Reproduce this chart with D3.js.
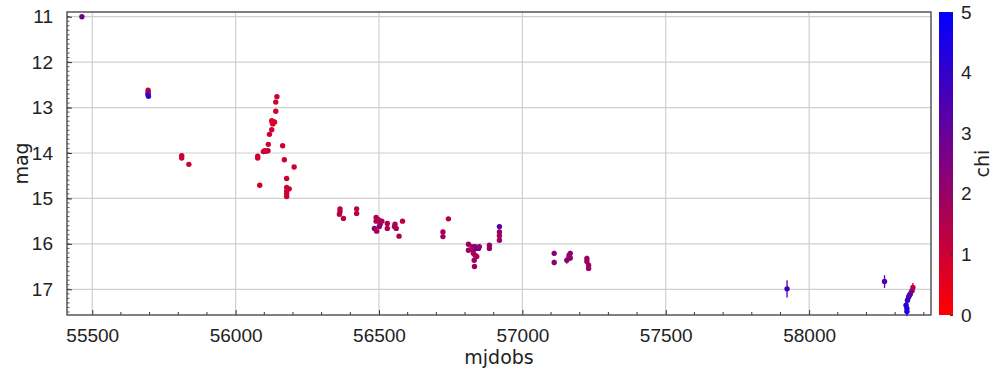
<!DOCTYPE html>
<html>
<head>
<meta charset="utf-8">
<script src="https://cdn.jsdelivr.net/npm/d3@7"></script>
<style>
  html, body { margin: 0; padding: 0; background: #fff; }
  svg { display: block; font-family: "DejaVu Sans", sans-serif; }
</style>
</head>
<body>
<svg id="chart" width="995" height="375"></svg>
<script>
// Light-curve observations: epoch (MJD), magnitude, magnitude error, chi
const mjd = [
  55464,
  55695, 55695, 55694, 55696,
  55812, 55812, 55837,
  56144, 56140, 56140, 56126, 56132, 56128, 56136, 56130, 56126, 56118, 56114,
  56101, 56097, 56113, 56106, 56077, 56077, 56164, 56170, 56204, 56084,
  56178, 56178, 56187, 56178, 56178, 56178,
  56364, 56364, 56362, 56376, 56422, 56422,
  56490, 56490, 56484, 56498, 56504, 56510, 56501, 56492,
  56529, 56529, 56556, 56554, 56560, 56570, 56582,
  56742, 56723, 56723,
  56812, 56812, 56824, 56829, 56835, 56841, 56847, 56850, 56829, 56835, 56832, 56833, 56841,
  56885, 56885, 56920, 56920, 56920, 56920,
  57111, 57111, 57155, 57163, 57167, 57167, 57225, 57225, 57231, 57231,
  57923, 58263,
  58338, 58341, 58343, 58347, 58350, 58353, 58359, 58362, 58341
];
const mag = [
  11.00,
  12.62, 12.67, 12.71, 12.75,
  14.06, 14.11, 14.25,
  12.76, 12.88, 13.08, 13.29, 13.31, 13.34, 13.32, 13.36, 13.49, 13.59, 13.81,
  13.95, 13.97, 13.95, 13.96, 14.07, 14.11, 13.84, 14.15, 14.31, 14.71,
  14.56, 14.76, 14.79, 14.84, 14.90, 14.96,
  15.23, 15.29, 15.35, 15.44, 15.23, 15.33,
  15.42, 15.50, 15.66, 15.47, 15.57, 15.50, 15.62, 15.72,
  15.55, 15.66, 15.57, 15.62, 15.66, 15.83, 15.50,
  15.45, 15.74, 15.84,
  16.01, 16.14, 16.06, 16.14, 16.06, 16.10, 16.10, 16.06, 16.21, 16.25, 16.36, 16.50, 16.28,
  16.03, 16.10, 15.62, 15.74, 15.82, 15.92,
  16.21, 16.41, 16.36, 16.25, 16.21, 16.31, 16.32, 16.39, 16.47, 16.54,
  16.99, 16.83,
  17.35, 17.42, 17.24, 17.17, 17.13, 17.10, 17.03, 16.96, 17.49
];
const magErr = [
  0.02,
  0.03, 0.03, 0.03, 0.03,
  0.02, 0.02, 0.02,
  0.02, 0.02, 0.02, 0.02, 0.02, 0.02, 0.02, 0.02, 0.02, 0.02, 0.02,
  0.02, 0.02, 0.02, 0.02, 0.02, 0.02, 0.02, 0.02, 0.02, 0.02,
  0.02, 0.02, 0.02, 0.02, 0.02, 0.02,
  0.04, 0.04, 0.04, 0.04, 0.04, 0.04,
  0.04, 0.04, 0.04, 0.04, 0.04, 0.04, 0.04, 0.04,
  0.04, 0.04, 0.04, 0.04, 0.04, 0.04, 0.03,
  0.03, 0.05, 0.05,
  0.05, 0.05, 0.05, 0.05, 0.05, 0.05, 0.05, 0.05, 0.05, 0.05, 0.05, 0.05, 0.05,
  0.05, 0.05, 0.05, 0.05, 0.05, 0.05,
  0.06, 0.06, 0.08, 0.06, 0.06, 0.06, 0.06, 0.06, 0.06, 0.06,
  0.19, 0.14,
  0.10, 0.12, 0.10, 0.10, 0.10, 0.10, 0.10, 0.10, 0.10
];
const chi = [
  2.8,
  1.3, 2.0, 3.0, 4.0,
  1.0, 1.0, 1.0,
  0.9, 0.9, 0.9, 0.6, 0.6, 0.7, 0.7, 0.8, 0.9, 1.1, 1.0,
  1.0, 1.0, 1.1, 1.0, 0.9, 0.9, 1.0, 1.0, 1.0, 0.9,
  1.0, 1.0, 1.0, 1.0, 1.0, 1.0,
  1.3, 1.4, 1.4, 1.3, 1.3, 1.4,
  1.4, 1.6, 2.4, 1.5, 1.9, 1.6, 2.1, 1.7,
  1.5, 1.5, 1.5, 1.7, 1.7, 1.5, 1.3,
  1.4, 1.7, 1.7,
  1.9, 1.9, 1.7, 2.1, 2.3, 2.5, 3.0, 1.9, 1.7, 1.7, 1.9, 2.0, 1.7,
  2.0, 2.0, 3.4, 2.0, 1.7, 1.9,
  2.3, 2.3, 2.2, 2.3, 2.2, 2.1, 1.9, 1.9, 1.9, 1.9,
  3.8, 3.4,
  4.2, 4.4, 4.0, 3.7, 3.5, 3.2, 2.6, 1.2, 4.5
];

const xTicks = [55500, 56000, 56500, 57000, 57500, 58000];
const yTicks = [11, 12, 13, 14, 15, 16, 17];
const chiTicks = [0, 1, 2, 3, 4, 5];

const W = 995, H = 375;
const plot = { left: 67, top: 12, right: 931, bottom: 315 };
const bar = { left: 939, right: 953 };

const svg = d3.select("#chart");

const x = d3.scaleLinear().domain([55412, 58425]).range([plot.left, plot.right]);
const y = d3.scaleLinear().domain([10.897, 17.566]).range([plot.top, plot.bottom]);
const color = d3.scaleLinear().domain([0, 5]).range(["#ff0000", "#0000ff"]).interpolate(d3.interpolateRgb);
const cy = d3.scaleLinear().domain([0, 5]).range([plot.bottom, plot.top]);

// grid
const grid = svg.append("g").attr("stroke", "#cfcfcf").attr("stroke-width", 1.2);
grid.selectAll("line.gx").data(xTicks).join("line")
  .attr("x1", d => x(d)).attr("x2", d => x(d))
  .attr("y1", plot.top).attr("y2", plot.bottom);
grid.selectAll("line.gy").data(yTicks).join("line")
  .attr("x1", plot.left).attr("x2", plot.right)
  .attr("y1", d => y(d)).attr("y2", d => y(d));

// minor ticks (inside the frame)
const minorX = d3.range(55500, 58500, 100).filter(v => v % 500 !== 0 && v < 58425);
svg.append("g").attr("stroke", "#333").attr("stroke-width", 1)
  .selectAll("line").data(minorX).join("line")
  .attr("x1", d => x(d)).attr("x2", d => x(d))
  .attr("y1", plot.bottom).attr("y2", plot.bottom - 3);
const minorY = d3.range(109, 176).map(v => v / 10).filter(v => v > 10.9 && v < 17.56);
svg.append("g").attr("stroke", "#333").attr("stroke-width", 0.8)
  .selectAll("line").data(minorY).join("line")
  .attr("x1", plot.left).attr("x2", plot.left + 2.5)
  .attr("y1", d => y(d)).attr("y2", d => y(d));

// axes
const xAxis = d3.axisBottom(x).tickValues(xTicks).tickFormat(d3.format("d"))
  .tickSizeInner(-5).tickSizeOuter(0).tickPadding(14);
const gx = svg.append("g").attr("transform", `translate(0,${plot.bottom})`).call(xAxis);
const yAxis = d3.axisLeft(y).tickValues(yTicks).tickFormat(d3.format("d"))
  .tickSizeInner(-5).tickSizeOuter(0).tickPadding(14);
const gy = svg.append("g").attr("transform", `translate(${plot.left},0)`).call(yAxis);
[gx, gy].forEach(g => {
  g.select(".domain").remove();
  g.selectAll(".tick line").attr("stroke", "#333");
  g.selectAll(".tick text").attr("fill", "#222").style("font-size", "19px");
});
gx.selectAll(".tick text").attr("dy", "0.71em");

// frame
svg.append("rect")
  .attr("x", plot.left).attr("y", plot.top)
  .attr("width", plot.right - plot.left).attr("height", plot.bottom - plot.top)
  .attr("fill", "none").attr("stroke", "#4a4a4a").attr("stroke-width", 1.4);

// observations
const data = mjd.map((m, i) => ({ t: m, m: mag[i], e: magErr[i], c: chi[i] }));
const pts = svg.append("g");
pts.selectAll("line").data(data).join("line")
  .attr("x1", d => x(d.t)).attr("x2", d => x(d.t))
  .attr("y1", d => y(d.m - d.e)).attr("y2", d => y(d.m + d.e))
  .attr("stroke", d => color(d.c)).attr("stroke-width", 1.3);
pts.selectAll("circle").data(data).join("circle")
  .attr("cx", d => x(d.t)).attr("cy", d => y(d.m)).attr("r", 2.7)
  .attr("fill", d => color(d.c));

// axis titles
svg.append("text").attr("x", (plot.left + plot.right) / 2).attr("y", 364)
  .attr("text-anchor", "middle").attr("fill", "#222").style("font-size", "19px").text("mjdobs");
svg.append("text").attr("transform", `translate(28,${(plot.top + plot.bottom) / 2}) rotate(-90)`)
  .attr("text-anchor", "middle").attr("fill", "#222").style("font-size", "19px").text("mag");

// colour bar
const defs = svg.append("defs");
const grad = defs.append("linearGradient").attr("id", "chiGrad")
  .attr("x1", 0).attr("y1", 1).attr("x2", 0).attr("y2", 0);
d3.range(0, 5.01, 0.5).forEach(v => {
  grad.append("stop").attr("offset", v / 5).attr("stop-color", color(v));
});
svg.append("rect").attr("x", bar.left).attr("y", plot.top)
  .attr("width", bar.right - bar.left).attr("height", plot.bottom - plot.top)
  .attr("fill", "url(#chiGrad)");
const cAxis = d3.axisRight(cy).tickValues(chiTicks).tickFormat(d3.format("d"))
  .tickSizeInner(-3).tickSizeOuter(0).tickPadding(8);
const gc = svg.append("g").attr("transform", `translate(${bar.right},0)`).call(cAxis);
gc.select(".domain").remove();
gc.selectAll(".tick line").attr("stroke", "#333");
gc.selectAll(".tick text").attr("fill", "#222").style("font-size", "19px");
svg.append("text").attr("transform", `translate(989,${(plot.top + plot.bottom) / 2}) rotate(-90)`)
  .attr("text-anchor", "middle").attr("fill", "#222").style("font-size", "19px").text("chi");
</script>
</body>
</html>
